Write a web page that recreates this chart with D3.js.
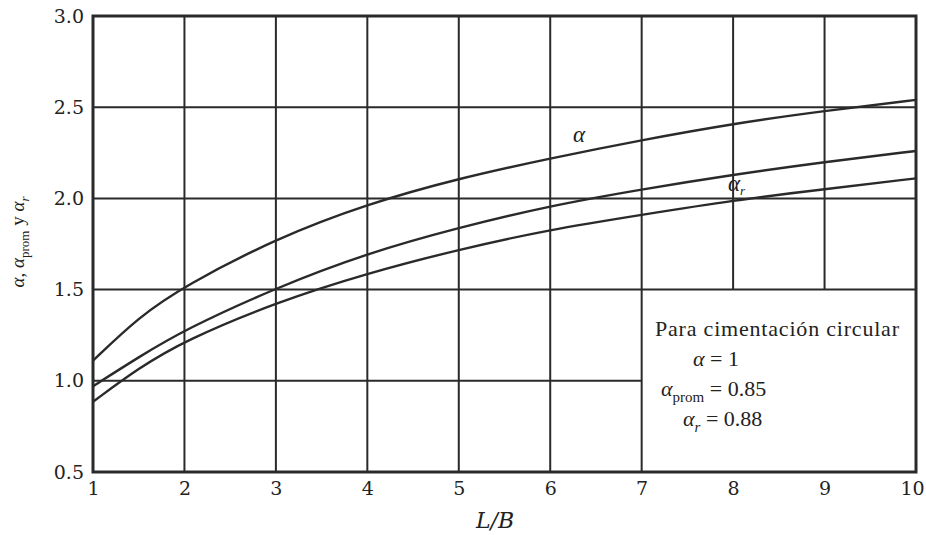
<!DOCTYPE html>
<html><head><meta charset="utf-8">
<script src="https://cdn.jsdelivr.net/npm/d3@7/dist/d3.min.js"></script>
<style>body{margin:0;background:#fff}svg{display:block}
.sf{font-family:"DejaVu Serif","Liberation Serif",serif}
.tf{font-family:"Liberation Serif","Times New Roman",Times,serif}
</style>
</head><body>
<script>
const xs = [1,1.5,2,3,4,5,6,7,8,9,10];
const alpha     = [1.11,1.35,1.52,1.78,1.97,2.11,2.22,2.32,2.41,2.48,2.54];
const alphaProm = [0.97,1.13,1.28,1.51,1.70,1.84,1.96,2.05,2.13,2.20,2.26];
const alphaR    = [0.885,1.07,1.22,1.43,1.59,1.72,1.83,1.91,1.99,2.05,2.11];
const xTicks = [1,2,3,4,5,6,7,8,9,10];
const yTicks = [0.5,1.0,1.5,2.0,2.5,3.0];

const W=926,H=535;
const svg=d3.select("body").append("svg").attr("width",W).attr("height",H);
const x=d3.scaleLinear().domain([1,10]).range([93,916]);
const y=d3.scaleLinear().domain([0.5,3.0]).range([472,16]);
const ink="#2a2a2a";

const g=svg.append("g");
xTicks.slice(1,-1).forEach(v=>{
  const yEnd = (v>7) ? y(1.5) : y(0.5);
  g.append("line").attr("x1",x(v)).attr("x2",x(v)).attr("y1",y(3)).attr("y2",yEnd)
   .attr("stroke",ink).attr("stroke-width",2);
});
yTicks.slice(1,-1).forEach(v=>{
  const xEnd = (v<1.5) ? x(7) : x(10);
  g.append("line").attr("x1",x(1)).attr("x2",xEnd).attr("y1",y(v)).attr("y2",y(v))
   .attr("stroke",ink).attr("stroke-width",2);
});
g.append("rect").attr("x",x(1)).attr("y",y(3)).attr("width",x(10)-x(1)).attr("height",y(0.5)-y(3))
 .attr("fill","none").attr("stroke",ink).attr("stroke-width",3);

const line=d3.line().x((d,i)=>x(xs[i])).y(d=>y(d)).curve(d3.curveBasis);
[alpha,alphaProm,alphaR].forEach(s=>{
  g.append("path").attr("d",line(s)).attr("fill","none").attr("stroke",ink).attr("stroke-width",2.4);
});

const xAxis=d3.axisBottom(x).tickValues(xTicks).tickSize(0).tickPadding(10).tickFormat(d3.format("d"));
const ax=svg.append("g").attr("transform",`translate(0,${y(0.5)})`).call(xAxis);
ax.attr("font-family",null).attr("font-size",null);
ax.select(".domain").remove();
ax.selectAll("text").attr("class","sf").style("font-size","19px").attr("fill","#222")
  .attr("dx",d=>d===10?-4:0);
const yAxis=d3.axisLeft(y).tickValues(yTicks).tickSize(0).tickPadding(9).tickFormat(d3.format(".1f"));
const ay=svg.append("g").attr("transform",`translate(${x(1)},0)`).call(yAxis);
ay.attr("font-family",null).attr("font-size",null);
ay.select(".domain").remove();
ay.selectAll("text").attr("class","sf").style("font-size","19px").attr("fill","#222");

svg.append("text").attr("class","sf").attr("x",495).attr("y",528).attr("text-anchor","middle")
 .style("font-style","italic").style("font-size","22px").attr("fill","#222").text("L/B");

const yl=svg.append("text").attr("class","tf").attr("transform","translate(24,242) rotate(-90)").attr("text-anchor","middle")
 .style("font-size","19px").attr("fill","#222");
yl.append("tspan").style("font-style","italic").text("α");
yl.append("tspan").text(", ");
yl.append("tspan").style("font-style","italic").text("α");
yl.append("tspan").style("font-size","13px").attr("dy",5).text("prom");
yl.append("tspan").attr("dy",-5).text(" y ");
yl.append("tspan").style("font-style","italic").text("α");
yl.append("tspan").style("font-size","13px").style("font-style","italic").attr("dy",5).text("r");

svg.append("text").attr("class","tf").attr("x",573).attr("y",142).style("font-style","italic")
 .style("font-size","23px").attr("fill","#222").text("α");
const ar=svg.append("text").attr("class","tf").attr("x",728).attr("y",191).style("font-style","italic")
 .style("font-size","23px").attr("fill","#222");
ar.append("tspan").text("α");
ar.append("tspan").style("font-size","13px").attr("dy",4).text("r");

function lt(xp,yp){return svg.append("text").attr("class","tf").attr("x",xp).attr("y",yp).style("font-size","22px").attr("fill","#222");}
lt(655,336).text("Para cimentación circular").attr("textLength",244);
const t1=lt(693,366);
t1.append("tspan").style("font-style","italic").text("α");
t1.append("tspan").text(" = 1");
const t2=lt(661,396);
t2.append("tspan").style("font-style","italic").text("α");
t2.append("tspan").style("font-size","15px").attr("dy",6).text("prom");
t2.append("tspan").attr("dy",-6).text(" = 0.85");
const t3=lt(683,426);
t3.append("tspan").style("font-style","italic").text("α");
t3.append("tspan").style("font-size","15px").style("font-style","italic").attr("dy",6).text("r");
t3.append("tspan").attr("dy",-6).text(" = 0.88");
</script>
</body></html>
